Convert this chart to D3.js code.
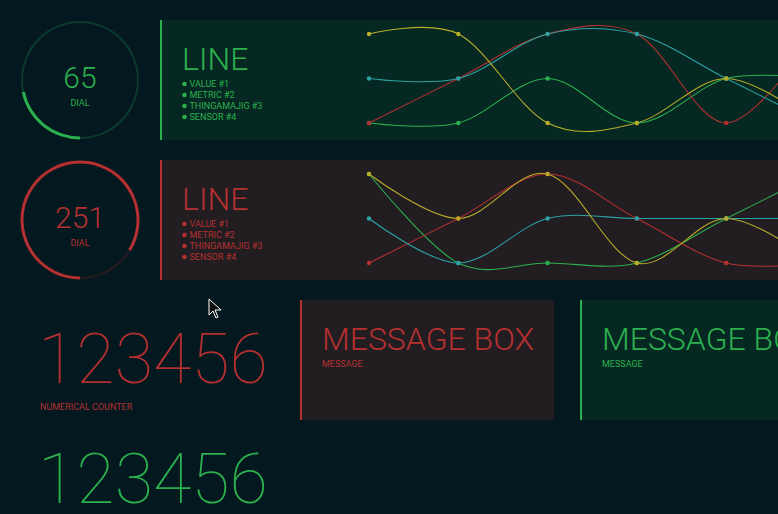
<!DOCTYPE html>
<html>
<head>
<meta charset="utf-8">
<script src="https://cdn.jsdelivr.net/npm/d3@7/dist/d3.min.js"></script>
<style>
html,body{margin:0;padding:0;background:#04181f;overflow:hidden;}
svg{display:block;font-family:Roboto,"Noto Sans",sans-serif;}
</style>
</head>
<body>
<svg id="c" width="778" height="514"></svg>
<script>
// ---- data ----
const dialValues = [65, 251];
const dialMax = 300;
const dialLabel = "DIAL";
const lineTitle = "LINE";
const legendLabels = ["VALUE #1", "METRIC #2", "THINGAMAJIG #3", "SENSOR #4"];
const xSteps = [0, 1, 2, 3, 4, 5];
// chart 1 (green)
const c1Yellow = [2, 2, 0, 0, 1, 0];
const c1Cyan   = [1, 1, 2, 2, 1, 0];
const c1Red    = [0, 1, 2, 2, 0, 2];
const c1Green  = [0, 0, 1, 0, 1, 1];
// chart 2 (red)
const c2Yellow = [2, 1, 2, 0, 1, 0];
const c2Cyan   = [1, 0, 1, 1, 1, 1];
const c2Red    = [0, 1, 2, 1, 0, 0];
const c2Green  = [2, 0, 0, 0, 1, 2];
const counterValue = "123456";
const counterLabel = "NUMERICAL COUNTER";
const messageTitle = "MESSAGE BOX";
const messageText = "MESSAGE";

// ---- styles ----
const GREEN = "#2cb04e", RED = "#b53030", YELLOW = "#b9ad2a", CYAN = "#2ca2a4";
const themes = {
  green: {fg: GREEN, panel: "#062822", track: "#0b3a2e"},
  red:   {fg: RED,   panel: "#221d21", track: "#2a1b21"}
};

const svg = d3.select("#c");

function dial(cx, cy, value, th) {
  const g = svg.append("g").attr("transform", `translate(${cx},${cy})`);
  const a = d3.arc().innerRadius(57).outerRadius(59);
  g.append("path").attr("d", a({startAngle: 0, endAngle: 2 * Math.PI})).attr("fill", th.track);
  const aa = d3.arc().innerRadius(56.5).outerRadius(59.5);
  const s = d3.scaleLinear().domain([0, dialMax]).range([Math.PI, 3 * Math.PI]);
  g.append("path").attr("d", aa({startAngle: s(0), endAngle: s(value)})).attr("fill", th.fg);
  g.append("text").attr("y", 8).attr("text-anchor", "middle").attr("font-size", 30)
    .attr("font-weight", 300).attr("fill", th.fg).text(value);
  g.append("text").attr("y", 26).attr("text-anchor", "middle").attr("font-size", 9)
    .attr("fill", th.fg).text(dialLabel);
}

function linePanel(y0, th, series) {
  const g = svg.append("g").attr("transform", `translate(0,${y0})`);
  g.append("rect").attr("x", 160).attr("y", 0).attr("width", 640).attr("height", 120).attr("fill", th.panel);
  g.append("rect").attr("x", 160).attr("y", 0).attr("width", 2).attr("height", 120).attr("fill", th.fg);
  g.append("text").attr("x", 182).attr("y", 50).attr("font-size", 32).attr("font-weight", 300)
    .attr("fill", th.fg).text(lineTitle);
  legendLabels.forEach((l, i) => {
    g.append("circle").attr("cx", 184.5).attr("cy", 64 + i * 11).attr("r", 2.3).attr("fill", th.fg);
    g.append("text").attr("x", 189.5).attr("y", 67.4 + i * 11).attr("font-size", 9)
      .attr("fill", th.fg).text(l);
  });
  const x = d3.scaleLinear().domain([0, 5]).range([369, 815.5]);
  const y = d3.scaleLinear().domain([0, 2]).range([103, 14]);
  const line = d3.line().x((d, i) => x(xSteps[i])).y(d => y(d)).curve(d3.curveCardinal.tension(0));
  const cg = g.append("g");
  series.forEach(s => {
    cg.append("path").attr("d", line(s.v)).attr("fill", "none").attr("stroke", s.c)
      .attr("stroke-width", 1.1);
  });
  series.forEach(s => {
    s.v.forEach((d, i) => {
      cg.append("circle").attr("cx", x(xSteps[i])).attr("cy", y(d)).attr("r", 2.2).attr("fill", s.c);
    });
  });
}

function messageBox(x0, y0, th) {
  const g = svg.append("g").attr("transform", `translate(${x0},${y0})`);
  g.append("rect").attr("width", 254).attr("height", 120).attr("fill", th.panel);
  g.append("rect").attr("width", 2).attr("height", 120).attr("fill", th.fg);
  g.append("text").attr("x", 22).attr("y", 50).attr("font-size", 32).attr("font-weight", 300)
    .attr("fill", th.fg).text(messageTitle);
  g.append("text").attr("x", 22).attr("y", 67).attr("font-size", 9).attr("fill", th.fg).text(messageText);
}

function counter(x0, yBase, th, label) {
  svg.append("text").attr("x", x0).attr("y", yBase).attr("font-size", 70).attr("font-weight", 100)
    .attr("fill", th.fg).text(counterValue);
  if (label) svg.append("text").attr("x", 40).attr("y", yBase + 27).attr("font-size", 9)
    .attr("fill", th.fg).text(label);
}

dial(80, 80, dialValues[0], themes.green);
dial(80, 220, dialValues[1], themes.red);
linePanel(20, themes.green, [
  {v: c1Green, c: GREEN}, {v: c1Red, c: RED}, {v: c1Cyan, c: CYAN}, {v: c1Yellow, c: YELLOW}]);
linePanel(160, themes.red, [
  {v: c2Green, c: GREEN}, {v: c2Red, c: RED}, {v: c2Cyan, c: CYAN}, {v: c2Yellow, c: YELLOW}]);
messageBox(300, 300, themes.red);
messageBox(580, 300, themes.green);
counter(38, 383, themes.red, counterLabel);
counter(38, 503, themes.green, null);

// mouse cursor
svg.append("path").attr("d", "M209,299 L209,315 L213,311 L216,318 L218,317 L215,310 L221,310 Z")
  .attr("fill", "#111").attr("stroke", "#fff").attr("stroke-width", 1);
</script>
</body>
</html>
